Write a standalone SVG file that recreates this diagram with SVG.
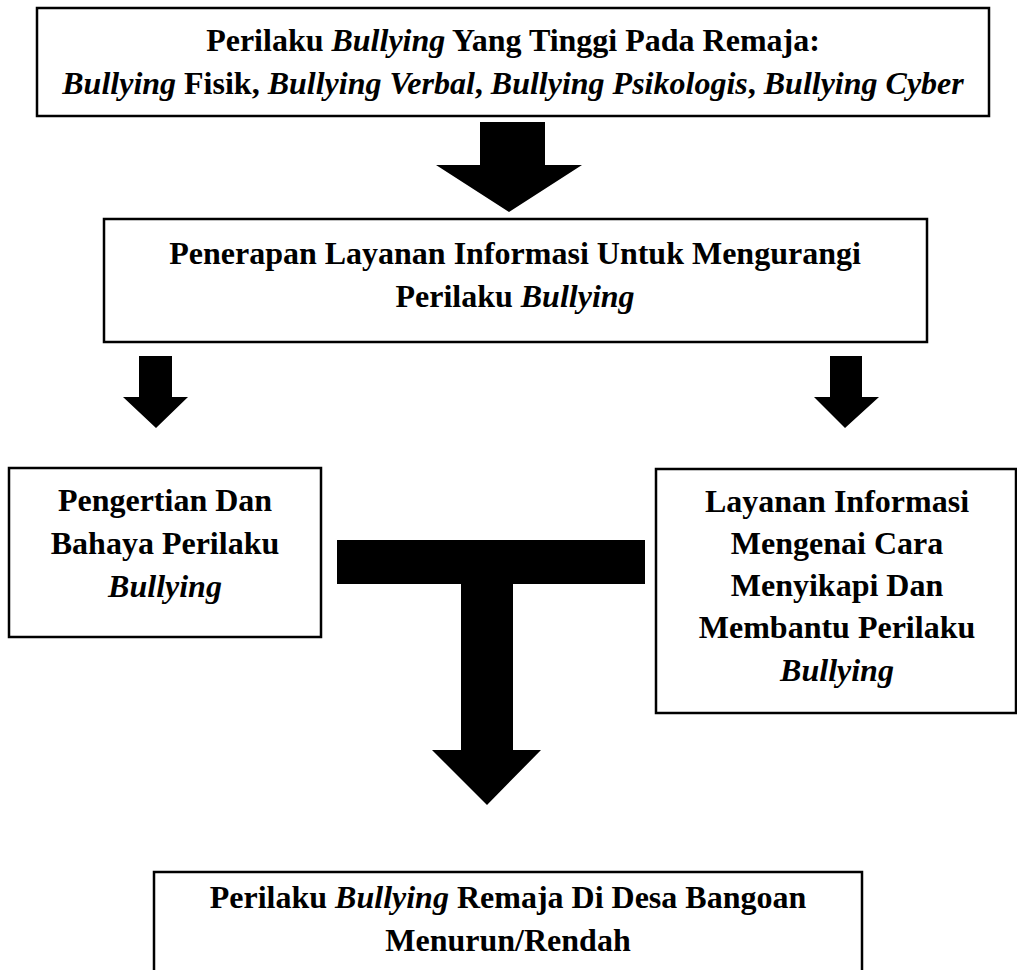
<svg xmlns="http://www.w3.org/2000/svg" width="1017" height="970" viewBox="0 0 1017 970">
<style>
.box{fill:#fff;stroke:#000;stroke-width:2.5}
.t{font-family:"Liberation Serif","Times New Roman",serif;font-weight:bold;font-size:32px;fill:#000;text-anchor:middle}
.i{font-style:italic}
.arr{fill:#000}
</style>
<rect width="1017" height="970" fill="#fff"/>
<g id="top">
<rect class="box" x="37" y="8" width="952" height="108"/>
<text class="t" x="513" y="51">Perilaku <tspan class="i">Bullying</tspan> Yang Tinggi Pada Remaja:</text>
<text class="t" x="513" y="94"><tspan class="i">Bullying</tspan> Fisik, <tspan class="i">Bullying Verbal</tspan>, <tspan class="i">Bullying Psikologis</tspan>, <tspan class="i">Bullying Cyber</tspan></text>
</g>
<g id="penerapan">
<rect class="box" x="104" y="219" width="823" height="123"/>
<text class="t" x="515" y="264">Penerapan Layanan Informasi Untuk Mengurangi</text>
<text class="t" x="515" y="307">Perilaku <tspan class="i">Bullying</tspan></text>
</g>
<g id="pengertian">
<rect class="box" x="9" y="468" width="312" height="169"/>
<text class="t" x="165" y="511">Pengertian Dan</text>
<text class="t" x="165" y="554">Bahaya Perilaku</text>
<text class="t i" x="165" y="597">Bullying</text>
</g>
<g id="layanan">
<rect class="box" x="656" y="469" width="360" height="244"/>
<text class="t" x="837" y="512">Layanan Informasi</text>
<text class="t" x="837" y="554">Mengenai Cara</text>
<text class="t" x="837" y="596">Menyikapi Dan</text>
<text class="t" x="837" y="638">Membantu Perilaku</text>
<text class="t i" x="837" y="681">Bullying</text>
</g>
<g id="hasil">
<rect class="box" x="154" y="872" width="708" height="110"/>
<text class="t" x="508" y="908">Perilaku <tspan class="i">Bullying</tspan> Remaja Di Desa Bangoan</text>
<text class="t" x="508" y="951">Menurun/Rendah</text>
</g>
<g id="connectors">
<polygon class="arr" points="480,122 545,122 545,165 582,165 509,212 436,165 480,165"/>
<polygon class="arr" points="139,356 172,356 172,397 188,397 156,428 123,397 139,397"/>
<polygon class="arr" points="830,356 862,356 862,397 879,397 845,428 814,397 830,397"/>
<polygon class="arr" points="337,540 645,540 645,584 513,584 513,750 541,750 487,805 432,750 461,750 461,584 337,584"/>
</g>
</svg>
